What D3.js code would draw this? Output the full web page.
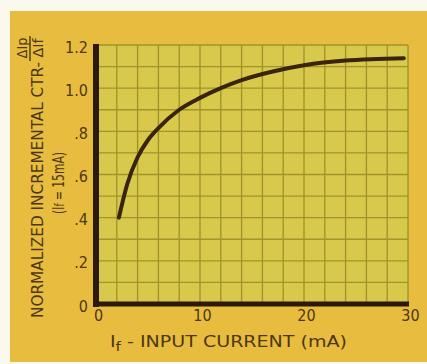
<!DOCTYPE html>
<html>
<head>
<meta charset="utf-8">
<script src="https://cdn.jsdelivr.net/npm/d3@7/dist/d3.min.js"></script>
<style>
  html, body { margin: 0; padding: 0; background: #fbf8ee; }
  svg { display: block; }
  text { font-family: "DejaVu Sans Condensed", "Liberation Sans Narrow", "Roboto", sans-serif; fill: #4e3714; }
</style>
</head>
<body>
<div id="chart"></div>
<script>
// ---- data ----
const inputCurrent = [2.2, 3, 4, 5, 6, 8, 10, 12, 14, 17, 20, 24, 27, 29.6];
const normalizedCTR = [0.40, 0.555, 0.68, 0.76, 0.815, 0.90, 0.955, 1.0, 1.037, 1.077, 1.106, 1.128, 1.135, 1.139];
const xTickValues = [0, 10, 20, 30];
const xTickLabels = ["0", "10", "20", "30"];
const yTickValues = [0, 0.2, 0.4, 0.6, 0.8, 1.0, 1.2];
const yTickLabels = ["0", ".2", ".4", ".6", ".8", "1.0", "1.2"];
const xGridValues = d3.range(0, 30.001, 2);
const yGridValues = d3.range(0, 1.2001, 0.1);

const W = 427, H = 364;
const svg = d3.select("#chart").append("svg").attr("width", W).attr("height", H);

// background panel
svg.append("rect").attr("x", 10).attr("y", 11).attr("width", W - 10).attr("height", 351).attr("fill", "#e8bd3f");

const x = d3.scaleLinear().domain([0, 30]).range([96, 408]);
const y = d3.scaleLinear().domain([0, 1.2]).range([304, 45]);

// plot area
svg.append("rect")
  .attr("x", x(0)).attr("y", y(1.2))
  .attr("width", x(30) - x(0)).attr("height", y(0) - y(1.2))
  .attr("fill", "#d8c84b");

// grid
const gridColor = "#a0952a";
svg.append("g").selectAll("line").data(xGridValues).join("line")
  .attr("x1", d => x(d)).attr("x2", d => x(d))
  .attr("y1", y(1.2)).attr("y2", y(0))
  .attr("stroke", gridColor).attr("stroke-width", 1.4);
svg.append("g").selectAll("line").data(yGridValues).join("line")
  .attr("x1", x(0)).attr("x2", x(30))
  .attr("y1", d => y(d)).attr("y2", d => y(d))
  .attr("stroke", gridColor).attr("stroke-width", 1.4);

// axes (thick left & bottom)
const axisColor = "#2b190a";
svg.append("line").attr("x1", x(0)).attr("x2", x(0)).attr("y1", y(1.2) - 1).attr("y2", y(0) + 3)
  .attr("stroke", axisColor).attr("stroke-width", 6);
svg.append("line").attr("x1", x(0) - 3).attr("x2", x(30) + 1).attr("y1", y(0)).attr("y2", y(0))
  .attr("stroke", axisColor).attr("stroke-width", 5);

// tick labels via d3 axes
const yAxis = d3.axisLeft(y).tickValues(yTickValues)
  .tickFormat((d, i) => yTickLabels[i]).tickSize(0).tickPadding(0);
const gy = svg.append("g").attr("transform", `translate(${x(0) - 8},2)`).call(yAxis);
gy.select(".domain").remove();
gy.selectAll("text").style("font-size", "16px").attr("fill", "#4e3714");

const xAxis = d3.axisBottom(x).tickValues(xTickValues)
  .tickFormat((d, i) => xTickLabels[i]).tickSize(0).tickPadding(0);
const gx = svg.append("g").attr("transform", `translate(2,${y(0) + 6})`).call(xAxis);
gx.select(".domain").remove();
gx.selectAll("text").style("font-size", "16px").attr("fill", "#4e3714");

// curve
const line = d3.line().x((d, i) => x(inputCurrent[i])).y(d => y(d)).curve(d3.curveMonotoneX);
svg.append("path").datum(normalizedCTR).attr("d", line)
  .attr("fill", "none").attr("stroke", "#3a2410").attr("stroke-width", 4).attr("stroke-linecap", "round");

// x title
const xt = svg.append("text").attr("x", 110).attr("y", 347).style("font-size", "15px");
xt.append("tspan").text("I");
xt.append("tspan").attr("dy", 4).style("font-size", "12px").text("f");
xt.append("tspan").attr("dy", -4).text(" - INPUT CURRENT (mA)");
xt.attr("textLength", 237).attr("lengthAdjust", "spacingAndGlyphs");

// y title (rotated)
const yt = svg.append("g").attr("transform", "rotate(-90)");
yt.append("text").attr("x", -318).attr("y", 43).style("font-size", "15.5px")
  .attr("textLength", 256).attr("lengthAdjust", "spacingAndGlyphs")
  .text("NORMALIZED INCREMENTAL CTR-");
yt.append("text").attr("x", -48).attr("y", 27).attr("text-anchor", "middle").style("font-size", "14.5px")
  .attr("textLength", 21).attr("lengthAdjust", "spacingAndGlyphs")
  .text("ΔIp");
yt.append("line").attr("x1", -61).attr("x2", -36).attr("y1", 30).attr("y2", 30)
  .attr("stroke", "#4e3714").attr("stroke-width", 1.4);
yt.append("text").attr("x", -48).attr("y", 43).attr("text-anchor", "middle").style("font-size", "14.5px")
  .attr("textLength", 19).attr("lengthAdjust", "spacingAndGlyphs")
  .text("ΔIf");
const sub = yt.append("text").attr("x", -183).attr("y", 64).attr("text-anchor", "middle").style("font-size", "15px")
  .attr("textLength", 62).attr("lengthAdjust", "spacingAndGlyphs");
sub.append("tspan").text("(I");
sub.append("tspan").style("font-size", "12px").text("f");
sub.append("tspan").text(" = 15mA)");
</script>
</body>
</html>
